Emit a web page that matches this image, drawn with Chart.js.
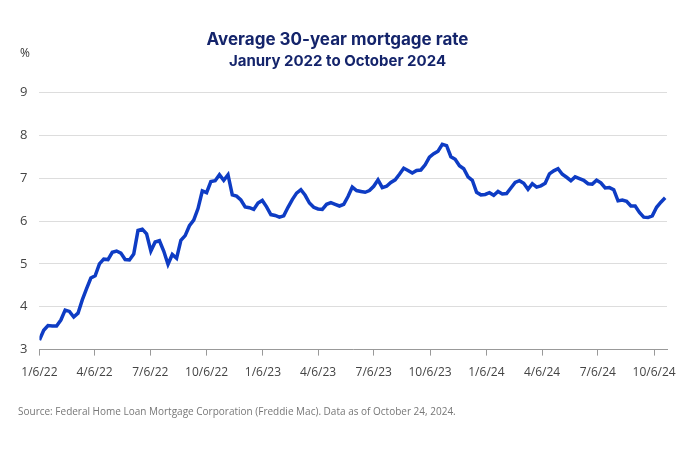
<!DOCTYPE html>
<html>
<head>
<meta charset="UTF-8">
<script src="https://cdn.jsdelivr.net/npm/chart.js"></script>
<style>
  body { margin: 0; background: #fff; }
  #wrap { width: 697px; height: 450px; position: relative; }
</style>
</head>
<body>
<div id="wrap"><canvas id="c"></canvas></div>
<script>
// weekly Freddie Mac PMMS 30-year rate, first week of Jan 2022 onward
const rates2022 = [3.22,3.45,3.56,3.55,3.55,3.69,3.92,3.89,3.76,3.85,4.16,4.42,4.67,4.72,5.00,5.11,5.10,5.27,5.30,5.25,5.10,5.09,5.23,5.78,5.81,5.70,5.30,5.51,5.54,5.30,4.99,5.22,5.13,5.55,5.66,5.89,6.02,6.29,6.70,6.66,6.92,6.94,7.08,6.95,7.08,6.61,6.58,6.49,6.33,6.31,6.27,6.42];
const rates2023 = [6.48,6.33,6.15,6.13,6.09,6.12,6.32,6.50,6.65,6.73,6.60,6.42,6.32,6.28,6.27,6.39,6.43,6.39,6.35,6.39,6.57,6.79,6.71,6.69,6.67,6.71,6.81,6.96,6.78,6.81,6.90,6.96,7.09,7.23,7.18,7.12,7.18,7.19,7.31,7.49,7.57,7.63,7.79,7.76,7.50,7.44,7.29,7.22,7.03,6.95,6.67,6.61];
const rates2024 = [6.62,6.66,6.60,6.69,6.63,6.64,6.77,6.90,6.94,6.88,6.74,6.87,6.79,6.82,6.88,7.10,7.17,7.22,7.09,7.02,6.94,7.03,6.99,6.95,6.87,6.86,6.95,6.89,6.77,6.78,6.73,6.47,6.49,6.46,6.35,6.35,6.20,6.09,6.08,6.12,6.32,6.44,6.54];
const tickLabels = ['1/6/22','4/6/22','7/6/22','10/6/22','1/6/23','4/6/23','7/6/23','10/6/23','1/6/24','4/6/24','7/6/24','10/6/24'];
const tickDays = [0,90,181,273,365,455,546,638,730,821,912,1004]; // days since 1/6/22

const rates = rates2022.concat(rates2023, rates2024);
const points = rates.map((v, i) => ({ x: i * 7, y: v }));

const extras = {
  id: 'extras',
  afterDraw(chart) {
    const ctx = chart.ctx;
    ctx.save();
    ctx.fillStyle = '#333';
    ctx.font = '12px "Open Sans", sans-serif';
    ctx.textAlign = 'left';
    ctx.fillText('%', 20, 57);
    ctx.fillStyle = '#777';
    ctx.font = '10px "Open Sans", sans-serif';
    ctx.fillText('Source: Federal Home Loan Mortgage Corporation (Freddie Mac). Data as of October 24, 2024.', 18, 415);
    ctx.restore();
  }
};

new Chart(document.getElementById('c'), {
  type: 'line',
  data: {
    datasets: [{
      data: points,
      borderColor: '#0e3cc4',
      borderWidth: 3.5,
      pointRadius: 0,
      tension: 0,
      fill: false
    }]
  },
  options: {
    responsive: true,
    maintainAspectRatio: false,
    animation: false,
    layout: { padding: { left: 8, right: 30, top: 30, bottom: 60 } },
    plugins: {
      legend: { display: false },
      tooltip: { enabled: false },
      title: {
        display: true,
        text: 'Average 30-year mortgage rate',
        color: '#14246b',
        font: { family: 'Inter', size: 17, weight: 'bold' },
        padding: { top: 0, bottom: 2 }
      },
      subtitle: {
        display: true,
        text: 'Janury 2022 to October 2024',
        color: '#14246b',
        font: { family: 'Inter', size: 15, weight: 'bold' },
        padding: { bottom: 22 }
      }
    },
    scales: {
      x: {
        type: 'linear',
        min: 0,
        max: 1025,
        afterBuildTicks(axis) { axis.ticks = tickDays.map(d => ({ value: d })); },
        ticks: {
          autoSkip: false,
          maxRotation: 0,
          padding: 10,
          color: '#444',
          font: { family: 'Open Sans', size: 12 },
          callback: (v) => tickLabels[tickDays.indexOf(v)]
        },
        grid: { display: true, drawOnChartArea: false, tickLength: 6, color: '#999' },
        border: { display: true, color: '#999' }
      },
      y: {
        min: 3,
        max: 9,
        ticks: { stepSize: 1, color: '#444', font: { family: 'Open Sans', size: 13 }, padding: 12 },
        grid: { color: '#ddd', drawTicks: false },
        border: { display: false }
      }
    }
  },
  plugins: [extras]
});
</script>
</body>
</html>
